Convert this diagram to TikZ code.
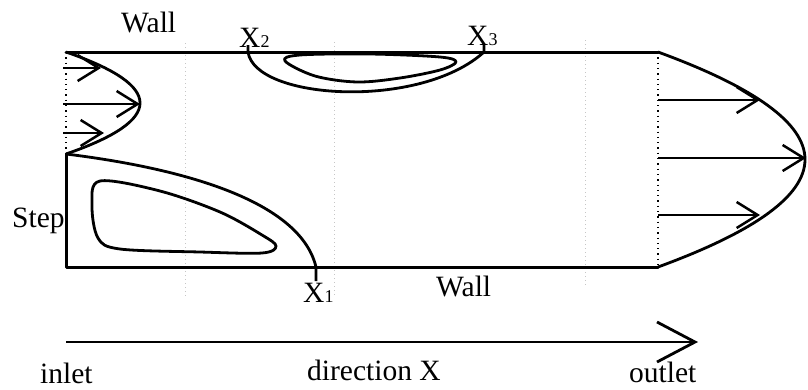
\documentclass[tikz,border=0pt]{standalone}
\usepackage{fontspec}
\setmainfont{Liberation Serif}
\usetikzlibrary{arrows.meta}
\newcommand{\Xsub}[1]{X{\fontsize{18}{18}\selectfont #1}}
\begin{document}
\begin{tikzpicture}[x=1pt,y=-1pt,
  wall/.style={line width=3pt,line cap=round,line join=round},
  stream/.style={line width=2.8pt,line join=round},
  grid/.style={gray!45,line width=0.7pt,dash pattern=on 1pt off 3pt},
  bound/.style={black,line width=2pt,dash pattern=on 1.3pt off 4pt},
  vel/.style={line width=2.5pt,-{Straight Barb[length=21pt,width=26pt]}},
  dirarrow/.style={line width=2.8pt,-{Straight Barb[length=38pt,width=40pt]}},
  lbl/.style={inner sep=0pt,anchor=base west,font=\fontsize{29.5}{29.5}\selectfont}]
\useasboundingbox (0,0) rectangle (808,389);
% corners
\coordinate (tl) at (66,52);
\coordinate (tr) at (658,52);
\coordinate (st) at (66,154);
\coordinate (bl) at (66,267);
\coordinate (br) at (658,267);
% faint dotted grid lines
\coordinate (g1a) at (185,43); \coordinate (g1b) at (185,297);
\coordinate (g2a) at (334,42); \coordinate (g2b) at (334,297);
\coordinate (g3a) at (585,40); \coordinate (g3b) at (585,285);
\draw[grid] (g1a) -- (g1b);
\draw[grid] (g2a) -- (g2b);
\draw[grid] (g3a) -- (g3b);
% inlet/outlet sections
\draw[bound] (tl) -- (st);
\draw[bound] (tr) -- (br);
% walls
\draw[wall] (tl) -- (tr);
\draw[wall] (st) -- (bl) -- (br);
% inlet profile
\draw[stream] (tl) .. controls (164.7,86) and (164.7,120) .. (st);
\coordinate (i1a) at (63,68);  \coordinate (i1b) at (101,68);
\coordinate (i2a) at (63,104); \coordinate (i2b) at (140,104);
\coordinate (i3a) at (63,133); \coordinate (i3b) at (104,133);
\draw[vel] (i1a) -- (i1b);
\draw[vel] (i2a) -- (i2b);
\draw[vel] (i3a) -- (i3b);
% outlet profile
\draw[stream] (tr) .. controls (854,123.7) and (854,195.3) .. (br);
\coordinate (o1a) at (658,100); \coordinate (o1b) at (760,100);
\coordinate (o2a) at (658,158); \coordinate (o2b) at (806,158);
\coordinate (o3a) at (658,215); \coordinate (o3b) at (760,215);
\draw[vel] (o1a) -- (o1b);
\draw[vel] (o2a) -- (o2b);
\draw[vel] (o3a) -- (o3b);
% bottom recirculation
\coordinate (x1w) at (316,267);
\coordinate (x1e) at (316,281);
\draw[stream] (st) .. controls (180,168) and (300,200) .. (x1w) -- (x1e);
\draw[stream] plot[smooth cycle,tension=0.55] coordinates {
  (100,181) (160,191) (220,212) (262,235) (276,246) (262,253)
  (200,252) (120,249) (98,238) (92,205)};
% top recirculation
\coordinate (x2t) at (248,45); \coordinate (x2w) at (248,52);
\coordinate (x3w) at (484,52); \coordinate (x3t) at (484,45);
\draw[stream] (x2t) -- (x2w) .. controls (255,100) and (420,110) .. (x3w) -- (x3t);
\draw[stream] plot[smooth cycle,tension=0.55] coordinates {
  (285,61) (300,55) (370,54) (440,57) (456,62) (440,70)
  (400,78) (357,82) (315,76)};
% direction arrow
\coordinate (da) at (66,342);
\coordinate (db) at (698,342);
\draw[dirarrow] (da) -- (db);
% labels
\node[lbl] (wtop) at (121,32) {Wall};
\node[lbl] (lx2) at (239,47) {\Xsub{2}};
\node[lbl] (lx3) at (467,45) {\Xsub{3}};
\node[lbl] (lx1) at (303,302) {\Xsub{1}};
\node[lbl] (wbot) at (436,296) {Wall};
\node[lbl] (step) at (12,227) {Step};
\node[lbl] (inl) at (40,383) {inlet};
\node[lbl] (dir) at (307,380) {direction X};
\node[lbl] (outl) at (629,382) {outlet};
\end{tikzpicture}
\end{document}
